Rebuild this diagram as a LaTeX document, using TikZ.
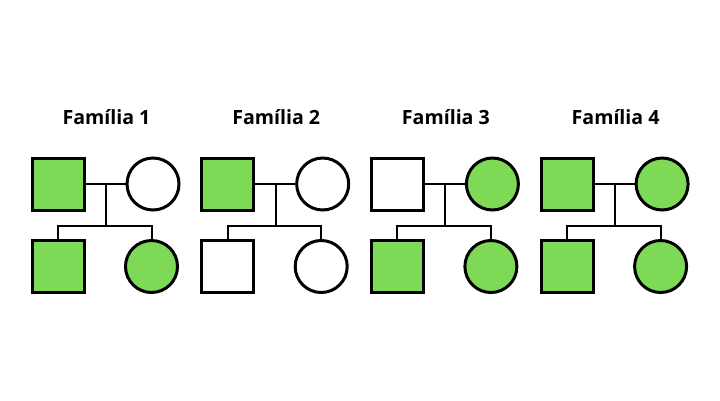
\documentclass[tikz,border=0pt]{standalone}
\usepackage{fontspec}
\setmainfont{Open Sans}
\definecolor{afgreen}{HTML}{7ED957}
\begin{document}
\begin{tikzpicture}[x=1pt,y=-1pt,
  male/.style={draw=black,line width=3pt,minimum size=52pt,inner sep=0pt,shape=rectangle},
  female/.style={draw=black,line width=3pt,minimum size=52pt,inner sep=0pt,shape=circle},
  aff/.style={fill=afgreen},
  unaff/.style={fill=white},
  link/.style={draw=black,line width=2pt},
  title/.style={font=\bfseries\fontsize{19.6}{23}\selectfont,inner sep=0pt,anchor=center}]
\useasboundingbox[fill=white] (0,0) rectangle (720,400);
\foreach \i/\fa/\mo/\so/\da in {1/aff/unaff/aff/aff, 2/aff/unaff/unaff/unaff, 3/unaff/aff/aff/aff, 4/aff/aff/aff/aff}{
  \begin{scope}[xshift={(\i-1)*169.7pt}]
    \node[title] (t\i) at (106.5,117) {Família \i};
    \node[male,\fa] (f\i) at (58,184) {};
    \node[female,\mo] (m\i) at (153,184) {};
    \node[male,\so] (s\i) at (58,266.5) {};
    \node[female,\da] (d\i) at (151.5,266.5) {};
    \coordinate (j\i) at (106,184);
    \coordinate (b\i) at (106,226);
    \coordinate (bl\i) at (58,226);
    \coordinate (br\i) at (151.5,226);
    \draw[link] (f\i.east) -- (m\i.west);
    \draw[link] (j\i) -- (b\i);
    \draw[link] (s\i.north) -- (bl\i) -- (br\i) -- (d\i.north);
  \end{scope}
}
\end{tikzpicture}
\end{document}
